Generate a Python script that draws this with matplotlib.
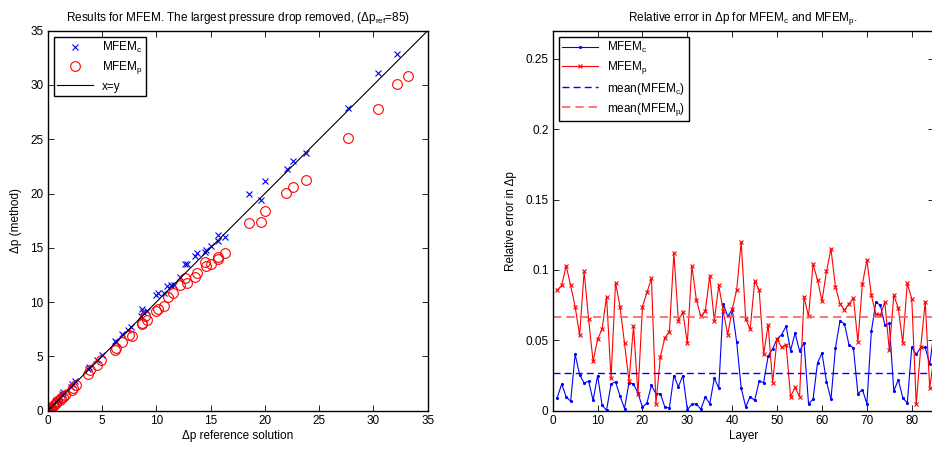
import matplotlib
matplotlib.use("Agg")
import matplotlib.pyplot as plt
from matplotlib.ticker import MultipleLocator, FuncFormatter

plt.rcParams['font.family'] = ['Liberation Sans', 'DejaVu Sans']
plt.rcParams['mathtext.default'] = 'regular'
plt.rcParams['font.size'] = 8

# Left panel: pressure drop per layer, method vs reference
ref_c = [32.15, 30.4, 27.7, 23.8, 22.6, 22.0, 20.05, 18.55, 19.65, 16.3, 15.73, 15.64,
         15.03, 14.55, 14.45, 13.74, 13.61, 12.81, 12.63, 12.15, 11.6, 11.4, 11.0, 10.75,
         10.15, 9.95, 9.1, 8.7, 8.8, 8.55, 7.65, 7.35, 6.85, 6.2, 6.25, 5.0, 4.5, 3.8,
         3.75, 2.55, 2.25, 2.1, 1.45, 1.3, 1.1, 0.95, 0.8, 0.6, 0.45, 0.3, 0.2, 0.12, 0.05]
dp_c = [32.9, 31.1, 27.9, 23.75, 23.0, 22.3, 21.2, 20.0, 19.4, 15.97, 16.18, 15.66,
        15.17, 14.8, 14.65, 14.49, 14.21, 13.54, 13.54, 12.3, 11.6, 11.6, 11.5, 10.8,
        10.8, 10.7, 9.2, 9.35, 9.1, 8.75, 7.7, 7.45, 7.1, 6.45, 6.3, 5.1, 4.65, 4.0,
        3.8, 2.75, 2.45, 2.2, 1.7, 1.5, 1.2, 1.0, 0.85, 0.65, 0.5, 0.32, 0.22, 0.13, 0.06]
ref_p = [33.22, 32.14, 30.39, 27.69, 23.79, 22.59, 21.97, 20.04, 18.53, 19.64, 16.32,
         15.73, 15.68, 15.0, 14.5, 14.6, 13.74, 13.6, 12.84, 12.65, 12.15, 11.55, 11.05,
         10.75, 10.15, 9.95, 9.15, 9.0, 8.7, 8.65, 7.75, 7.45, 6.8, 6.3, 6.2, 4.95, 4.5,
         3.9, 3.7, 2.6, 2.3, 2.2, 1.55, 1.4, 1.25, 1.1, 0.9, 0.75, 0.6, 0.45, 0.3, 0.2,
         0.12, 0.05]
dp_p = [30.86, 30.09, 27.8, 25.14, 21.28, 20.6, 20.05, 18.42, 17.28, 17.35, 14.55,
        14.2, 14.0, 13.48, 13.7, 13.35, 12.7, 12.35, 11.8, 12.2, 11.6, 10.85, 10.45,
        9.65, 9.35, 9.2, 8.35, 8.7, 8.1, 8.0, 6.9, 6.95, 6.3, 5.75, 5.6, 4.65, 4.2,
        3.75, 3.4, 2.35, 2.1, 1.95, 1.45, 1.3, 1.2, 0.95, 0.85, 0.7, 0.5, 0.4, 0.28,
        0.18, 0.1, 0.04]
diag = [0, 35]

# Right panel: relative error per layer
layers = list(range(1, 86))
err_c = [0.0092, 0.0189, 0.0099, 0.0066, 0.040, 0.0257, 0.0196, 0.021, 0.0073, 0.025,
         0.004, 0.0002, 0.019, 0.0205, 0.0105, 0.0015, 0.020, 0.019, 0.0125, 0.0025,
         0.0055, 0.018, 0.012, 0.012, 0.0025, 0.002, 0.025, 0.017, 0.025, 0.0007,
         0.0045, 0.005, 0.001, 0.0097, 0.005, 0.023, 0.016, 0.076, 0.067, 0.0717,
         0.0486, 0.016, 0.0028, 0.010, 0.0073, 0.021, 0.020, 0.0387, 0.044, 0.051,
         0.054, 0.060, 0.0427, 0.055, 0.0425, 0.0483, 0.005, 0.008, 0.034, 0.041,
         0.0207, 0.008, 0.0446, 0.0637, 0.0618, 0.047, 0.0446, 0.012, 0.015, 0.005,
         0.0564, 0.077, 0.075, 0.061, 0.062, 0.014, 0.022, 0.0092, 0.0054, 0.045,
         0.040, 0.045, 0.045, 0.033, 0.057]
err_p = [0.0858, 0.089, 0.103, 0.089, 0.074, 0.0535, 0.099, 0.065, 0.035, 0.0507,
         0.058, 0.081, 0.023, 0.091, 0.074, 0.048, 0.021, 0.060, 0.012, 0.074,
         0.084, 0.094, 0.005, 0.0385, 0.052, 0.056, 0.112, 0.064, 0.070, 0.048,
         0.103, 0.079, 0.067, 0.071, 0.096, 0.064, 0.089, 0.0705, 0.054, 0.072,
         0.086, 0.120, 0.065, 0.058, 0.092, 0.086, 0.040, 0.061, 0.020, 0.051,
         0.045, 0.047, 0.010, 0.0165, 0.010, 0.081, 0.067, 0.104, 0.093, 0.078,
         0.099, 0.115, 0.088, 0.076, 0.0715, 0.076, 0.080, 0.049, 0.090, 0.107,
         0.082, 0.0685, 0.068, 0.077, 0.043, 0.082, 0.073, 0.048, 0.0905, 0.0795,
         0.0045, 0.045, 0.0775, 0.016, 0.040]
mean_c = 0.0271
mean_p = 0.0665

W, H = 932, 449
fig = plt.figure(figsize=(W / 100, H / 100), dpi=100)

ax1 = fig.add_axes([47.7 / W, (H - 410.7) / H, 380.0 / W, 380.0 / H])
ax2 = fig.add_axes([552.7 / W, (H - 410.7) / H, 381.5 / W, 380.0 / H])

for ax in (ax1, ax2):
    ax.tick_params(direction='in', top=True, right=True, length=4, width=0.6,
                   labelsize=8.5, pad=3)
    for s in ax.spines.values():
        s.set_linewidth(1.0)

# scatter panel
ax1.plot(ref_c, dp_c, linestyle='none', marker='x', color='blue', markersize=4,
         markeredgewidth=0.8, label='MFEM$_c$')
ax1.plot(ref_p, dp_p, linestyle='none', marker='o', markerfacecolor='none',
         markeredgecolor='red', markersize=7, markeredgewidth=0.8, label='MFEM$_p$')
ax1.plot(diag, diag, color='black', linewidth=0.8, label='x=y')
ax1.set_xlim(0, 35)
ax1.set_ylim(0, 35)
ax1.xaxis.set_major_locator(MultipleLocator(5))
ax1.yaxis.set_major_locator(MultipleLocator(5))
ax1.set_xlabel('Δp reference solution', fontsize=8.5, labelpad=2)
ax1.set_ylabel('Δp (method)', fontsize=8.5, labelpad=6)
ax1.set_title('Results for MFEM. The largest pressure drop removed, (Δp$_{ref}$=85)',
              fontsize=8.5, pad=7)
leg1 = ax1.legend(loc='upper left', fontsize=8.5, fancybox=False, framealpha=1,
                  edgecolor='black', borderaxespad=0.5, handlelength=3.0,
                  labelspacing=0.35, borderpad=0.3)
leg1.get_frame().set_linewidth(1.0)

# relative error panel
ax2.plot(layers, err_c, color='blue', linewidth=0.8, marker='.', markersize=2.5,
         label='MFEM$_c$')
ax2.plot(layers, err_p, color='red', linewidth=0.8, marker='x', markersize=3.5,
         markeredgewidth=0.8, label='MFEM$_p$')
ax2.axhline(mean_c, color='#0000ff', linewidth=1.0, dashes=(5, 3),
            label='mean(MFEM$_c$)')
ax2.axhline(mean_p, color='#ff5c5c', linewidth=1.2, dashes=(5, 3),
            label='mean(MFEM$_p$)')
ax2.set_xlim(0, 85)
ax2.set_ylim(0, 0.27)
ax2.xaxis.set_major_locator(MultipleLocator(10))
ax2.set_yticks([0, 0.05, 0.1, 0.15, 0.2, 0.25])
ax2.yaxis.set_major_formatter(FuncFormatter(lambda v, p: '%g' % round(v, 4)))
ax2.set_xlabel('Layer', fontsize=8.5, labelpad=2)
ax2.set_ylabel('Relative error in Δp', fontsize=8.5, labelpad=6)
ax2.set_title('Relative error in Δp for MFEM$_c$ and MFEM$_p$.', fontsize=8.5, pad=7)
leg2 = ax2.legend(loc='upper left', fontsize=8.5, fancybox=False, framealpha=1,
                  edgecolor='black', borderaxespad=0.5, handlelength=3.0,
                  labelspacing=0.35, borderpad=0.3)
leg2.get_frame().set_linewidth(1.0)

fig.savefig('out.png', dpi=100)
